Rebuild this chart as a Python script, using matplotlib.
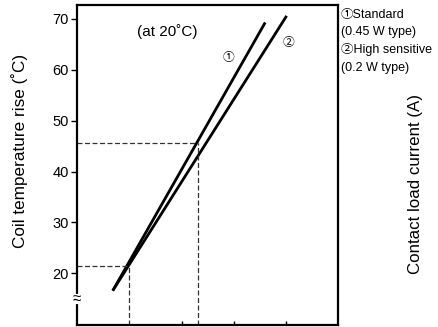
import matplotlib
matplotlib.use('Agg')
import matplotlib.pyplot as plt

plt.rcParams['font.family'] = ['Liberation Sans', 'DejaVu Sans']

# data
std_x = [0.68, 3.60]
std_y = [16.6, 69.3]
hs_x = [0.68, 4.01]
hs_y = [16.6, 70.6]
guide_x = [0.99, 2.31]
guide_y = [21.5, 45.7]
yticks = [20, 30, 40, 50, 60, 70]
xticks = [2, 3, 4]

fig = plt.figure(figsize=(4.39, 3.27), dpi=100)
ax = fig.add_axes([0.176, 0.006, 0.5946, 0.979])

ax.plot(std_x, std_y, color='black', linewidth=2.0, solid_capstyle='butt')
ax.plot(hs_x, hs_y, color='black', linewidth=2.0, solid_capstyle='butt')

# dashed reading guides
for gx, gy in zip(guide_x, guide_y):
    ax.plot([0, gx], [gy, gy], color='#333333', linewidth=0.9, dashes=(4, 2))
    ax.plot([gx, gx], [9.84, gy], color='#333333', linewidth=0.9, dashes=(4, 2))

ax.set_xlim(0, 5)
ax.set_ylim(9.84, 72.75)
ax.set_yticks(yticks)
ax.set_xticks(xticks)
ax.set_xticklabels([])
ax.tick_params(axis='y', direction='out', length=4, width=1, labelsize=10.5, pad=2)
ax.tick_params(axis='x', direction='in', length=3, width=1)
for s in ax.spines.values():
    s.set_linewidth(1.6)

ax.set_ylabel('Coil temperature rise (˚C)', fontsize=12.3, va='center')
ax.yaxis.set_label_coords(-0.2196, 0.545)

# axis break mark
ax.plot([0, 0], [14.4, 15.6], color='white', linewidth=3, clip_on=False, zorder=3)
ax.text(0, 15, '≈', fontsize=11, ha='center', va='center', zorder=4,
        transform=ax.get_yaxis_transform())

ax.text(1.72, 67.5, '(at 20˚C)', fontsize=11, ha='center', va='center')
ax.text(2.90, 62.5, '①', fontsize=8.5, ha='center', va='center',
        family=['Noto Sans CJK JP', 'DejaVu Sans'])
ax.text(4.04, 65.3, '②', fontsize=8.5, ha='center', va='center',
        family=['Noto Sans CJK JP', 'DejaVu Sans'])

legend_lines = ['①Standard', '(0.45 W type)', '②High sensitive', '(0.2 W type)']
for i, t in enumerate(legend_lines):
    fig.text(341 / 439, 1 - (15 + 17.5 * i) / 327, t, fontsize=9, ha='left', va='center',
             family=['Liberation Sans', 'Noto Sans CJK JP'])

fig.text(416 / 439, 1 - 184 / 327, 'Contact load current (A)', fontsize=12.2,
         rotation=90, ha='center', va='center')

fig.savefig('out.png', dpi=100)
